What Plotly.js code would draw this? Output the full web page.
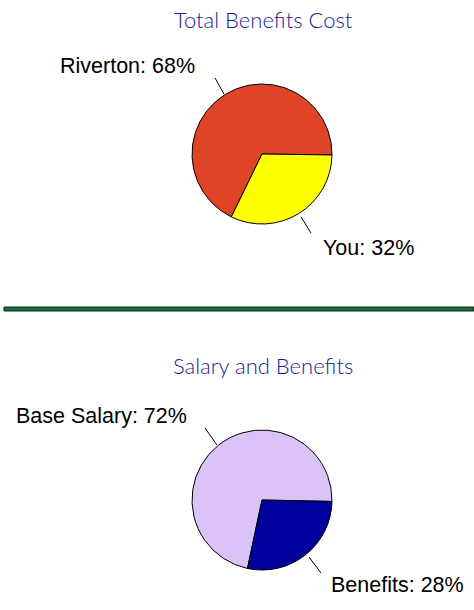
<!DOCTYPE html>
<html>
<head>
<meta charset="utf-8">
<script src="https://cdn.plot.ly/plotly-3.0.1.min.js"></script>
<style>html,body{margin:0;padding:0;background:#fff;}#chart{width:474px;height:610px;}</style>
</head>
<body>
<div id="chart"></div>
<script>
// Data
const costTitle = "Total Benefits Cost";
const costLabels = ["Riverton", "You"];
const costValues = [68, 32];
const costColors = ["#df4427", "#ffff00"];

const payTitle = "Salary and Benefits";
const payLabels = ["Base Salary", "Benefits"];
const payValues = [72, 28];
const payColors = ["#dbc3f8", "#00009c"];

const W = 474, H = 610;
const px = x => x / W;
const py = y => 1 - y / H;

function pieTrace(labels, values, colors, cx, cy, r, rotation) {
  return {
    type: "pie",
    labels: labels,
    values: values,
    sort: false,
    direction: "clockwise",
    rotation: rotation,
    textinfo: "none",
    hoverinfo: "none",
    showlegend: false,
    marker: {colors: colors, line: {color: "#000", width: 1}},
    domain: {x: [px(cx - r), px(cx + r)], y: [py(cy + r), py(cy - r)]}
  };
}

const labelFont = {family: "Liberation Sans, Arial, sans-serif", size: 21.5, color: "#000"};
const titleFont = {family: "Lato, Noto Sans, sans-serif", size: 22, color: "#1c1d8f", weight: 300};

function lbl(labels, values, i, x, y) {
  return {xref: "paper", yref: "paper", x: px(x), y: py(y), xanchor: "left", yanchor: "middle",
    text: labels[i] + ": " + values[i] + "%", showarrow: false, font: labelFont};
}
function ttl(text, x, y) {
  return {xref: "paper", yref: "paper", x: px(x), y: py(y), xanchor: "center", yanchor: "middle",
    text: text, showarrow: false, font: titleFont};
}
function seg(x0, y0, x1, y1) {
  return {type: "line", xref: "paper", yref: "paper", x0: px(x0), y0: py(y0), x1: px(x1), y1: py(y1),
    line: {color: "#000", width: 1}};
}

const data = [
  pieTrace(costLabels, costValues, costColors, 262, 154, 70, 206),
  pieTrace(payLabels, payValues, payColors, 262, 500, 70, 192)
];

const layout = {
  width: W, height: H,
  margin: {l: 0, r: 0, t: 0, b: 0},
  paper_bgcolor: "#fff",
  plot_bgcolor: "#fff",
  annotations: [
    ttl(costTitle, 263, 19),
    lbl(costLabels, costValues, 0, 58, 66),
    lbl(costLabels, costValues, 1, 321, 248),
    ttl(payTitle, 263, 365),
    lbl(payLabels, payValues, 0, 14, 416),
    lbl(payLabels, payValues, 1, 329, 585)
  ],
  shapes: [
    seg(215, 78, 224, 94),
    seg(301, 217, 311, 233),
    seg(205, 428, 217, 445),
    seg(309, 557, 321, 573),
    {type: "rect", xref: "paper", yref: "paper", x0: px(4), x1: px(474), y0: py(311), y1: py(307),
      fillcolor: "#17693d", line: {color: "#0b2e1a", width: 1}}
  ]
};

Plotly.newPlot("chart", data, layout, {displayModeBar: false, staticPlot: true});
</script>
</body>
</html>
